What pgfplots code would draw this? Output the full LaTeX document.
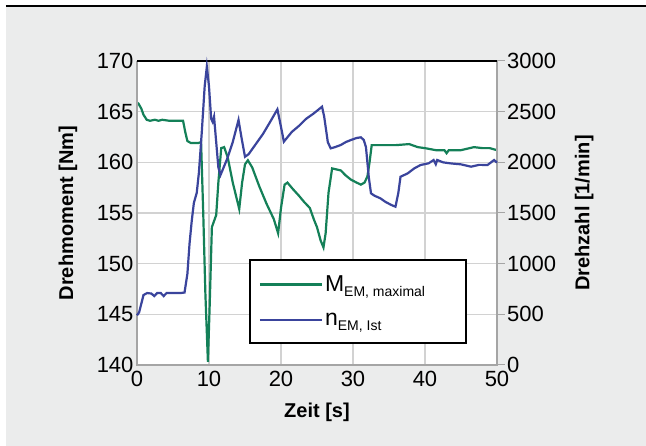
\documentclass[border=0pt]{standalone}
\usepackage{pgfplots}
\pgfplotsset{compat=1.18}
\usepackage{fontspec}
\setmainfont{Liberation Sans}
\definecolor{bggray}{RGB}{235,236,236}
\definecolor{emgreen}{RGB}{20,128,88}
\definecolor{emblue}{RGB}{58,68,156}
\definecolor{gridgray}{RGB}{210,210,210}
\definecolor{axgray}{RGB}{165,165,165}
\begin{document}
\begin{tikzpicture}
\useasboundingbox (-137pt,-81pt) rectangle (509pt,365pt);
\fill[white] (-137pt,-81pt) rectangle (509pt,365pt);
\fill[bggray] (-131pt,-81pt) rectangle (509pt,359pt);
\draw[black, line width=1.5pt] (-131pt,359pt) -- (509pt,359pt);
\begin{axis}[
  scale only axis, width=360pt, height=304pt, at={(0pt,0pt)}, anchor=south west,
  xmin=0, xmax=50, ymin=140, ymax=170,
  xtick={0,10,...,50}, ytick={140,145,...,170},
  axis line style={draw=none},
  axis background/.style={fill=white},
  grid=major, major grid style={gridgray, line width=1.5pt},
  major tick length=0pt,
  tick label style={font=\fontsize{22}{22}\selectfont},
  xticklabel style={yshift=-3pt},
  /pgf/number format/assume math mode=true,
  xlabel={Zeit [s]}, ylabel={Drehmoment [Nm]},
  label style={font=\bfseries\fontsize{20}{20}\selectfont},
  xlabel style={at={(axis description cs:0.5,-0.155)}, anchor=center},
  ylabel style={at={(axis description cs:-0.192,0.5)}, anchor=center},
]
\addplot[emgreen, line width=2.2pt] coordinates {
(0,165.9) (0.2,165.8) (0.6,165.3) (0.9,164.7) (1.35,164.2) (1.8,164.1) (2.5,164.2) (3.0,164.1) (3.5,164.2) (4.5,164.1) (5.5,164.1) (6.4,164.1)
(6.7,163.0) (7.0,162.1) (7.5,161.9) (8.5,161.9) (8.9,162.0) (9.2,155) (9.5,147) (9.85,140.3) (10.1,146) (10.4,153.6) (11.0,154.8)
(11.3,158) (11.7,161.4) (12.1,161.5) (12.6,160.5) (13.3,158) (14.2,155.4) (14.6,158) (15.0,159.8) (15.4,160.2) (16.0,159.5)
(17.0,157.6) (18.0,155.9) (19.0,154.4) (19.6,153.0) (20.0,155.5) (20.5,157.8) (20.9,158.0) (21.6,157.4) (22.5,156.7) (23.2,156.1)
(24.0,155.5) (24.6,154.3) (25.0,153.6) (25.5,152.3) (25.9,151.6) (26.2,153) (26.6,157) (27.1,159.4) (28.3,159.2) (29.0,158.7)
(29.7,158.3) (30.5,158.0) (31.1,157.8) (31.6,158.0) (32.0,158.6) (32.3,160) (32.6,161.7) (34,161.7) (36,161.7) (37.8,161.8)
(39,161.5) (40,161.4) (41.5,161.2) (42.7,161.2) (43,160.9) (43.3,161.2) (45,161.2) (46.8,161.5) (48,161.4) (49,161.4) (50,161.2)
};
\end{axis}
\begin{axis}[
  scale only axis, width=360pt, height=304pt, at={(0pt,0pt)}, anchor=south west,
  xmin=0, xmax=50, ymin=0, ymax=3000,
  axis x line=none, axis y line*=right,
  axis line style={draw=none},
  clip=false,
  ytick={0,500,...,3000}, tick align=outside, major tick length=8pt,
  ytick style={axgray, line width=1pt},
  tick label style={font=\fontsize{22}{22}\selectfont},
  yticklabel style={inner xsep=2pt},
  /pgf/number format/assume math mode=true,
  /pgf/number format/1000 sep={},
  ylabel={Drehzahl [1/min]},
  label style={font=\bfseries\fontsize{20}{20}\selectfont},
  ylabel style={at={(axis description cs:1.242,0.5)}, anchor=center},
  legend image code/.code={\draw[#1, line width=2.2pt] (0pt,0pt) -- (62pt,0pt);},
  legend style={at={(axis description cs:0.311,0.349)}, anchor=north west, draw=black, line width=1.8pt, fill=white,
    font=\fontsize{23}{26}\selectfont, inner xsep=9pt, inner ysep=14pt, row sep=16pt,
    /tikz/every even column/.append style={column sep=18pt}},
  legend cell align=left,
]
\draw[axgray, line width=1.5pt] (rel axis cs:0,1) -- (rel axis cs:0,0) -- (rel axis cs:1,0) -- (rel axis cs:1,1);
\draw[black, line width=2pt] (rel axis cs:0,1) -- (rel axis cs:1,1);
\addlegendimage{emgreen, line width=2.2pt}
\addlegendentry{M\raisebox{-0.22em}{\fontsize{14}{14}\selectfont EM, maximal}\hspace*{30pt}}
\addplot[emblue, line width=2.2pt] coordinates {
(0,490) (0.3,520) (0.9,690) (1.4,710) (2.0,705) (2.4,680) (2.8,710) (3.3,710) (3.7,680) (4.1,710) (5,710) (6.0,710) (6.6,715)
(7.0,900) (7.3,1200) (7.6,1420) (7.9,1600) (8.3,1700) (8.6,1900) (9.0,2300) (9.4,2750) (9.7,2944) (10.0,2750) (10.3,2430)
(10.5,2400) (10.7,2450) (11.0,2200) (11.3,1950) (11.6,1875) (12.5,2030) (13.3,2200) (14.1,2418) (14.5,2250) (15.0,2055)
(15.5,2080) (16.5,2180) (17.5,2280) (18.5,2400) (19.5,2523) (20.0,2350) (20.4,2204) (21.5,2300) (22.5,2360) (23.5,2430)
(24.5,2480) (25.7,2549) (26.0,2450) (26.5,2200) (26.9,2138) (27.5,2150) (28.3,2171) (29.0,2200) (29.7,2220) (30.5,2240)
(31.1,2247) (31.5,2220) (31.8,2150) (32.2,1850) (32.5,1694) (33.0,1670) (33.8,1645) (34.5,1610) (35.3,1580) (35.9,1562)
(36.3,1700) (36.6,1858) (37.6,1891) (38.5,1940) (39.4,1974) (40.5,1990) (41.2,2023) (41.5,1980) (41.7,2023) (42.5,2000)
(43.5,1990) (45,1980) (46.4,1957) (47.5,1975) (48.7,1974) (49.6,2023) (50,1997)
};
\addlegendentry{n\raisebox{-0.22em}{\fontsize{14}{14}\selectfont EM, Ist}}
\end{axis}
\end{tikzpicture}
\end{document}
